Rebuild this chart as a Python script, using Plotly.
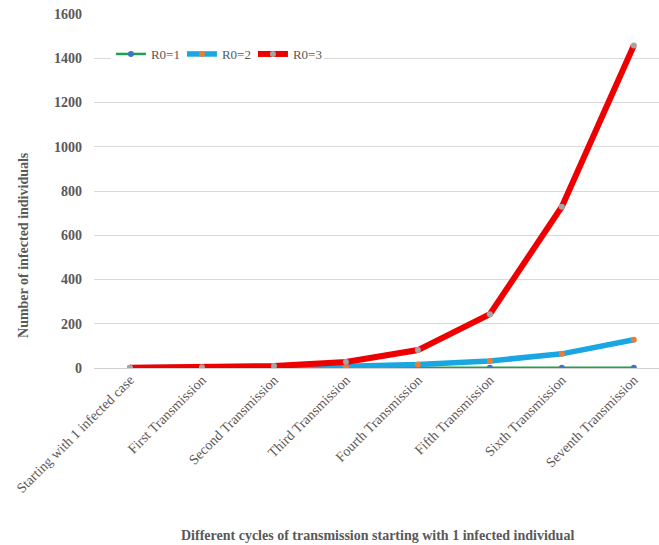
import plotly.graph_objects as go

# Transmission cycles and infected counts for each reproduction number
cycles = [
    "Starting with 1 infected case",
    "First Transmission",
    "Second Transmission",
    "Third Transmission",
    "Fourth Transmission",
    "Fifth Transmission",
    "Sixth Transmission",
    "Seventh Transmission",
]
r0_1 = [1, 1, 1, 1, 1, 1, 1, 1]
r0_2 = [1, 2, 4, 8, 16, 32, 64, 128]
r0_3 = [1, 3, 9, 27, 81, 243, 729, 1458]

series_names = ["R0=1", "R0=2", "R0=3"]
y_ticks = [0, 200, 400, 600, 800, 1000, 1200, 1400, 1600]

SERIF = "Liberation Serif, Times New Roman, serif"
GREY = "#595959"

styles = [
    dict(line="#1fa24f", width=2.5, marker="#4472c4"),
    dict(line="#1aa7e1", width=5.5, marker="#ed7d31"),
    dict(line="#ee0000", width=6, marker="#a5a5a5"),
]

fig = go.Figure()
for name, vals, st in zip(series_names, [r0_1, r0_2, r0_3], styles):
    fig.add_trace(go.Scatter(
        x=cycles, y=vals, name=name, mode="lines+markers",
        line=dict(color=st["line"], width=st["width"]),
        marker=dict(color=st["marker"], size=6),
    ))

fig.update_layout(
    width=659, height=545,
    margin=dict(l=94, r=0, t=14, b=177),
    paper_bgcolor="white", plot_bgcolor="white",
    font=dict(family=SERIF, color=GREY, size=14),
    showlegend=True,
    legend=dict(
        orientation="h", x=0.03, y=0.887, xanchor="left", yanchor="middle",
        bgcolor="white", font=dict(family=SERIF, size=13, color=GREY),
        itemwidth=30, tracegroupgap=0,
        entrywidth=26, entrywidthmode="pixels",
    ),
    xaxis=dict(
        type="category", range=[-0.5, 7.35],
        tickangle=-45, tickfont=dict(family=SERIF, size=14, color=GREY),
        showgrid=False, showline=False, ticks="", zeroline=False,
    ),
    yaxis=dict(
        range=[0, 1600], tickvals=y_ticks,
        tickfont=dict(family=SERIF, size=14, color=GREY, weight="bold"),
        showgrid=True, gridcolor="#d9d9d9", gridwidth=1,
        zeroline=True, zerolinecolor="#d0d0d0", zerolinewidth=1,
        showline=False, ticks="", ticklabelstandoff=11,
    ),
    annotations=[
        dict(text="<b>Number of infected individuals</b>", textangle=-90,
             xref="paper", yref="paper", x=-0.126, y=0.347,
             xanchor="center", yanchor="middle", showarrow=False,
             font=dict(family=SERIF, size=14, color=GREY)),
        dict(text="<b>Different cycles of transmission starting with 1 infected individual</b>",
             xref="paper", yref="paper", x=0.501, y=-0.472,
             xanchor="center", yanchor="middle", showarrow=False,
             font=dict(family=SERIF, size=14, color=GREY)),
    ],
)

fig.write_html("out.html")
